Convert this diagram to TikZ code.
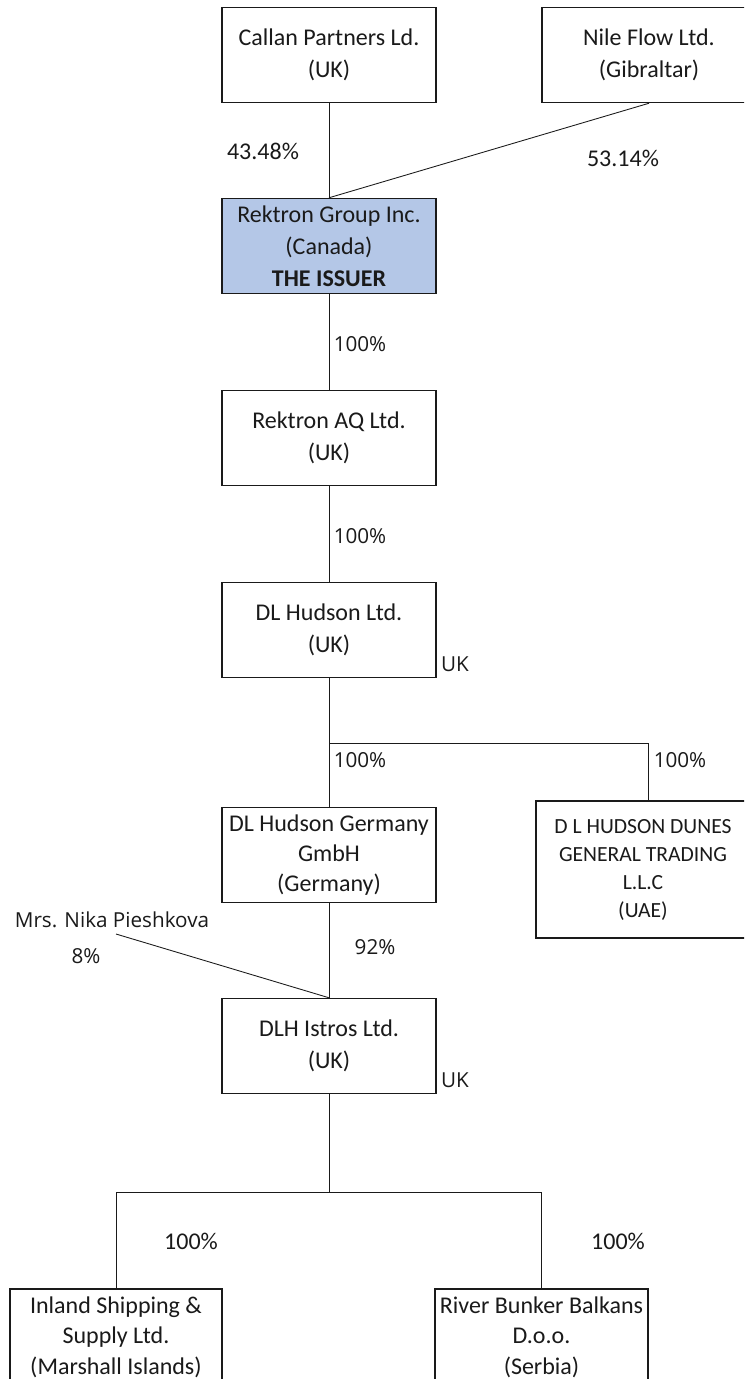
\documentclass[tikz,border=0pt]{standalone}
\usepackage{fontspec}
\setmainfont{Carlito}
\newfontfamily\lblfont{Open Sans}
\definecolor{issuer}{HTML}{B4C7E7}
\definecolor{ink}{HTML}{1A1A1A}
\begin{document}
\begin{tikzpicture}[x=0.75pt,y=-0.75pt,
  box/.style={draw=ink, line width=0.85pt, rectangle, inner sep=0pt,
    minimum width=160.5pt, minimum height=71.5pt, align=center,
    font=\fontsize{18}{24}\selectfont, text=ink},
  conn/.style={draw=ink, line width=0.65pt},
  pct/.style={font=\fontsize{18}{24}\selectfont, text=ink, inner sep=0pt},
  lbl/.style={font=\lblfont\fontsize{15.5}{18}\selectfont, text=ink, inner sep=0pt}]
\useasboundingbox (0,0) rectangle (744,1379);
\clip (0,0) rectangle (744,1379);
\fill[white] (0,0) rectangle (744,1379);

% boxes
\node[box] (cal) at (329,55) {Callan Partners Ld.\\(UK)};
\node[box] (nil) at (649,55) {Nile Flow Ltd.\\(Gibraltar)};
\node[box, fill=issuer] (rg) at (329,246) {Rektron Group Inc.\\(Canada)\\\textbf{THE ISSUER}};
\node[box] (aq) at (329,438) {Rektron AQ Ltd.\\(UK)};
\node[box] (dlh) at (329,630) {DL Hudson Ltd.\\(UK)};
\node[box, font=\fontsize{18}{22.5}\selectfont] (dlg) at (329,855) {DL Hudson Germany\\GmbH\\(Germany)};
\node[box, minimum height=102.75pt, font=\fontsize{16.2}{21}\selectfont] (dun) at (643,869.5) {D L HUDSON DUNES\\GENERAL TRADING\\L.L.C\\(UAE)};
\node[box] (ist) at (329,1046) {DLH Istros Ltd.\\(UK)};
\node[box, minimum width=159pt, minimum height=72pt, font=\fontsize{18}{23}\selectfont] (inl) at (116,1337) {Inland Shipping \&\\Supply Ltd.\\(Marshall Islands)};
\node[box, minimum width=159.75pt, minimum height=72pt, font=\fontsize{18}{23}\selectfont] (riv) at (541.5,1337) {River Bunker Balkans\\D.o.o.\\(Serbia)};

% connectors
\draw[conn] (cal.south) -- (rg.north);
\draw[conn] (nil.south) -- (rg.north);
\draw[conn] (rg.south) -- (aq.north);
\draw[conn] (aq.south) -- (dlh.north);
\draw[conn] (dlh.south) -- (dlg.north);
\coordinate (br1) at (329,743);
\draw[conn] (br1) -| ([xshift=3.75pt]dun.north);
\node[lbl, anchor=center] (nika) at (112,920) {Mrs. Nika Pieshkova};
\coordinate (nk) at (116,934);
\draw[conn] (nk) -- (ist.north);
\draw[conn] (dlg.south) -- (ist.north);
\coordinate (br2) at (329,1192);
\draw[conn] (ist.south) -- (br2);
\draw[conn] (inl.north) |- (br2) -| (riv.north);

% labels
\node[pct] (p1) at (263,151) {43.48\%};
\node[pct] (p2) at (623,158) {53.14\%};
\node[lbl] (p3) at (360,344) {100\%};
\node[lbl] (p4) at (360,536) {100\%};
\node[lbl] (uk1) at (455,664) {UK};
\node[lbl] (p5) at (360,760) {100\%};
\node[lbl] (p6) at (680,760) {100\%};
\node[lbl] (p7) at (375,947) {92\%};
\node[lbl] (p8) at (86,956) {8\%};
\node[lbl] (uk2) at (455,1080) {UK};
\node[pct] (p9) at (191,1241) {100\%};
\node[pct] (p10) at (618,1241) {100\%};
\end{tikzpicture}
\end{document}
